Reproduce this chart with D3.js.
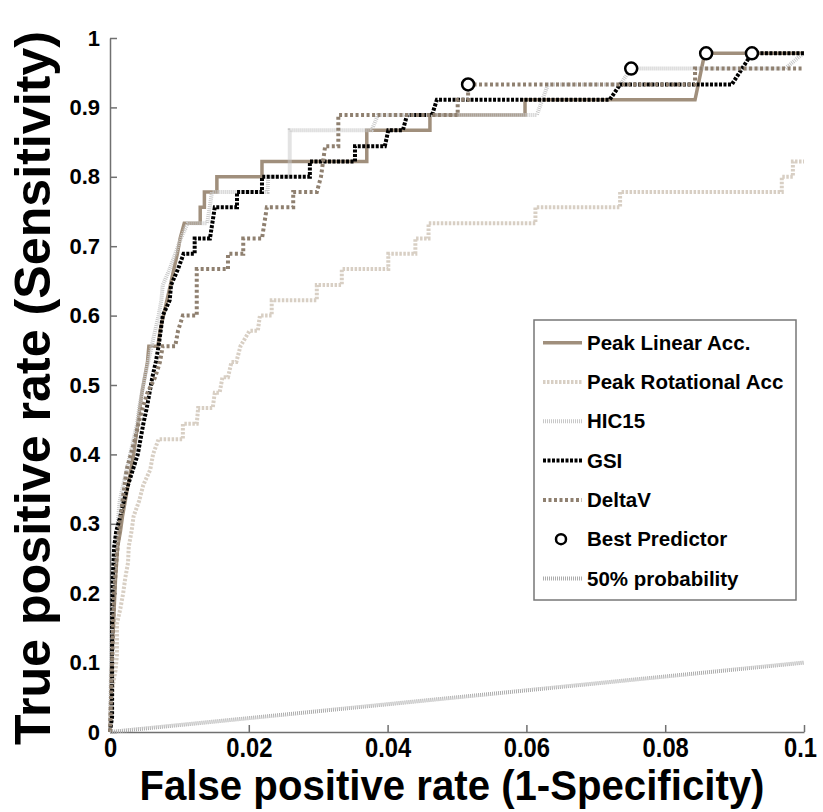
<!DOCTYPE html>
<html>
<head>
<meta charset="utf-8">
<script src="https://cdn.jsdelivr.net/npm/d3@7"></script>
<style>
body { margin: 0; background: #fff; }
text { font-family: "Liberation Sans", Arial, sans-serif; font-weight: bold; fill: #000; }
</style>
</head>
<body>
<svg id="chart" width="823" height="812"></svg>
<script>
// ROC curves, points are [false positive rate, true positive rate]
var peakLinear = [[0,0],[0.0001,0.044],[0.0002,0.089],[0.0004,0.133],[0.0006,0.178],[0.0008,0.222],[0.0011,0.267],
    [0.0015,0.289],[0.0018,0.311],[0.0022,0.333],[0.0026,0.356],[0.0030,0.378],[0.0034,0.4],[0.0037,0.422],
    [0.0040,0.444],[0.0043,0.467],[0.0046,0.489],[0.0050,0.511],[0.0054,0.533],[0.0056,0.556],[0.0069,0.556],
    [0.0072,0.578],[0.0077,0.6],[0.0082,0.622],[0.0087,0.644],[0.0092,0.667],[0.0097,0.689],[0.0101,0.711],
    [0.0107,0.733],[0.0130,0.733],[0.0130,0.756],[0.0136,0.756],[0.0136,0.778],[0.0154,0.778],[0.0154,0.8],
    [0.0219,0.8],[0.0219,0.822],[0.0370,0.822],[0.0370,0.867],[0.0461,0.867],[0.0461,0.889],[0.0598,0.889],
    [0.0598,0.911],[0.0843,0.911],[0.0857,0.978],[0.1,0.978]];

var peakRotational = [[0,0],[0.0002,0.022],[0.0004,0.067],[0.0008,0.089],[0.0010,0.111],[0.0010,0.156],
    [0.0015,0.178],[0.0019,0.2],[0.0022,0.222],[0.0026,0.244],[0.0027,0.267],[0.0031,0.289],[0.0034,0.311],
    [0.0042,0.333],[0.0048,0.356],[0.0058,0.378],[0.0062,0.4],[0.0070,0.422],[0.0105,0.422],[0.0105,0.444],
    [0.0125,0.444],[0.0127,0.467],[0.0148,0.467],[0.0151,0.489],[0.0158,0.489],[0.0162,0.511],[0.0170,0.511],
    [0.0175,0.533],[0.0182,0.533],[0.0188,0.556],[0.0201,0.578],[0.0213,0.578],[0.0216,0.6],[0.0233,0.6],
    [0.0233,0.622],[0.0298,0.622],[0.0298,0.644],[0.0334,0.644],[0.0334,0.667],[0.0401,0.667],[0.0401,0.689],
    [0.0440,0.689],[0.0440,0.711],[0.0459,0.711],[0.0459,0.733],[0.0613,0.733],[0.0613,0.756],[0.0735,0.756],
    [0.0735,0.778],[0.0968,0.778],[0.0968,0.8],[0.0984,0.8],[0.0984,0.822],[0.1,0.822]];

var hic15 = [[0,0],[0.0001,0.067],[0.0002,0.133],[0.0004,0.2],[0.0007,0.244],[0.0010,0.289],[0.0014,0.333],
    [0.0019,0.356],[0.0024,0.378],[0.0029,0.4],[0.0034,0.422],[0.0039,0.444],[0.0042,0.467],[0.0046,0.489],
    [0.0050,0.511],[0.0055,0.533],[0.0060,0.556],[0.0065,0.578],[0.0070,0.6],[0.0074,0.622],[0.0076,0.644],
    [0.0086,0.667],[0.0094,0.689],[0.0102,0.711],[0.0112,0.733],[0.0140,0.733],[0.0147,0.778],[0.0227,0.778],
    [0.0228,0.8],[0.0259,0.8],[0.0259,0.867],[0.0377,0.867],[0.0386,0.889],[0.0615,0.889],[0.0631,0.933],
    [0.0735,0.933],[0.0751,0.956],[0.0973,0.956],[0.0999,0.978]];

var gsi = [[0,0],[0.0003,0.022],[0.0003,0.156],[0.0004,0.222],[0.0006,0.267],[0.0009,0.289],[0.0015,0.311],
    [0.0020,0.333],[0.0026,0.356],[0.0033,0.378],[0.0040,0.4],[0.0044,0.422],[0.0048,0.444],[0.0053,0.467],
    [0.0057,0.489],[0.0061,0.511],[0.0066,0.533],[0.0070,0.556],[0.0073,0.578],[0.0076,0.6],[0.0086,0.622],
    [0.0088,0.644],[0.0098,0.667],[0.0106,0.689],[0.0122,0.689],[0.0122,0.711],[0.0144,0.711],[0.0151,0.756],
    [0.0183,0.756],[0.0183,0.778],[0.0219,0.778],[0.0219,0.8],[0.0288,0.8],[0.0288,0.822],[0.0353,0.822],
    [0.0353,0.844],[0.0396,0.844],[0.0401,0.867],[0.0422,0.867],[0.0428,0.889],[0.0464,0.889],[0.0471,0.911],
    [0.0720,0.911],[0.0735,0.933],[0.0896,0.933],[0.0925,0.978],[0.1,0.978]];

var deltaV = [[0,0],[0.0002,0.067],[0.0004,0.133],[0.0006,0.2],[0.0009,0.244],[0.0013,0.289],[0.0018,0.333],
    [0.0024,0.378],[0.0030,0.4],[0.0036,0.422],[0.0041,0.444],[0.0047,0.467],[0.0054,0.489],[0.0065,0.511],
    [0.0072,0.533],[0.0076,0.556],[0.0094,0.556],[0.0098,0.578],[0.0105,0.6],[0.0125,0.6],[0.0125,0.667],
    [0.0170,0.667],[0.0170,0.689],[0.0192,0.689],[0.0192,0.711],[0.0219,0.711],[0.0226,0.756],[0.0264,0.756],
    [0.0264,0.778],[0.0298,0.778],[0.0304,0.8],[0.0310,0.844],[0.0329,0.844],[0.0329,0.889],[0.0501,0.889],
    [0.0501,0.911],[0.0516,0.911],[0.0516,0.933],[0.0843,0.933],[0.0843,0.956],[0.1,0.956]];

var bestPredictor = [[0.0516,0.933],[0.0751,0.956],[0.0859,0.978],[0.0925,0.978]];
var chance = [[0,0],[0.1,0.1]];

var seriesNames = ["Peak Linear Acc.", "Peak Rotational Acc", "HIC15", "GSI", "DeltaV"];
var seriesData = [peakLinear, peakRotational, hic15, gsi, deltaV];
var xTicks = [0, 0.02, 0.04, 0.06, 0.08, 0.1];
var yTicks = [0, 0.1, 0.2, 0.3, 0.4, 0.5, 0.6, 0.7, 0.8, 0.9, 1];
var xTitle = "False positive rate (1-Specificity)";
var yTitle = "True positive rate (Sensitivity)";

// line looks, same order as seriesNames
var looks = [
    {color: "#a08f7c", dash: null, width: 3.5},
    {color: "#d8cfc4", dash: "2.5,1.5", width: 4},
    {color: "#c8c8c8", dash: "1,1", width: 4},
    {color: "#000000", dash: "3,1.5", width: 4},
    {color: "#8f8070", dash: "3,2.5", width: 4}
];
var chanceLook = {color: "#acacac", dash: "1,1", width: 4};

var svg = d3.select("#chart");
var x = d3.scaleLinear().domain([0, 0.1]).range([110, 804]);
var y = d3.scaleLinear().domain([0, 1]).range([732, 38]);

var line = d3.line()
    .x(function(d) { return x(d[0]); })
    .y(function(d) { return y(d[1]); });

// axes, ticks point inward
var xAxis = svg.append("g")
    .attr("transform", "translate(0," + y(0) + ")")
    .call(d3.axisBottom(x).tickValues(xTicks).tickSizeInner(-7).tickSizeOuter(0).tickPadding(6)
        .tickFormat(function(d) { return d === 0 ? "0" : d3.format(".2~f")(d); }));
var yAxis = svg.append("g")
    .attr("transform", "translate(" + x(0) + ",0)")
    .call(d3.axisLeft(y).tickValues(yTicks).tickSizeInner(-7).tickSizeOuter(0).tickPadding(10)
        .tickFormat(d3.format(".1~f")));

[xAxis, yAxis].forEach(function(g) {
    g.select(".domain").attr("stroke", "#707070").attr("stroke-width", 1.5);
    g.selectAll(".tick line").attr("stroke", "#707070").attr("stroke-width", 1.5);
    g.selectAll("text").attr("fill", "#000").style("font-family", "'Liberation Sans', Arial, sans-serif")
        .style("font-weight", "bold");
});
yAxis.selectAll("text").style("font-size", "22px");
// x tick labels are tall and narrow in the original
xAxis.selectAll("text").style("font-size", "27px")
    .each(function() {
        var w = this.getComputedTextLength();
        d3.select(this).attr("textLength", w * 0.88).attr("lengthAdjust", "spacingAndGlyphs");
    });
// keep the last label inside the page
xAxis.selectAll(".tick:last-of-type text").attr("dx", -4);

// curves
seriesData.forEach(function(data, i) {
    svg.append("path")
        .datum(data)
        .attr("d", line)
        .attr("fill", "none")
        .attr("stroke", looks[i].color)
        .attr("stroke-width", looks[i].width)
        .attr("stroke-dasharray", looks[i].dash);
});

svg.selectAll(".best")
    .data(bestPredictor)
    .enter().append("circle")
    .attr("class", "best")
    .attr("cx", function(d) { return x(d[0]); })
    .attr("cy", function(d) { return y(d[1]); })
    .attr("r", 6)
    .attr("fill", "#fff")
    .attr("stroke", "#000")
    .attr("stroke-width", 2.5);

svg.append("path")
    .datum(chance)
    .attr("d", line)
    .attr("fill", "none")
    .attr("stroke", chanceLook.color)
    .attr("stroke-width", chanceLook.width)
    .attr("stroke-dasharray", chanceLook.dash);

// axis titles
svg.append("text")
    .attr("x", 452).attr("y", 800)
    .attr("text-anchor", "middle")
    .attr("textLength", 625).attr("lengthAdjust", "spacingAndGlyphs")
    .style("font-size", "42px")
    .text(xTitle);

svg.append("text")
    .attr("transform", "translate(50,388) rotate(-90)")
    .attr("text-anchor", "middle")
    .attr("textLength", 714).attr("lengthAdjust", "spacingAndGlyphs")
    .style("font-size", "50px")
    .text(yTitle);

// legend
var legend = svg.append("g").attr("transform", "translate(534,320)");
legend.append("rect")
    .attr("width", 262).attr("height", 280)
    .attr("fill", "#fff").attr("stroke", "#777").attr("stroke-width", 1.5);

var legendItems = seriesNames.concat(["Best Predictor", "50% probability"]);
var legendLooks = looks.concat([null, chanceLook]);
legendItems.forEach(function(name, i) {
    var cy = 22.7 + i * 39.3;
    var lk = legendLooks[i];
    if (lk) {
        legend.append("line")
            .attr("x1", 9).attr("x2", 48).attr("y1", cy).attr("y2", cy)
            .attr("stroke", lk.color).attr("stroke-width", lk.width)
            .attr("stroke-dasharray", lk.dash);
    } else {
        legend.append("circle")
            .attr("cx", 27).attr("cy", cy).attr("r", 5)
            .attr("fill", "#fff").attr("stroke", "#000").attr("stroke-width", 2.5);
    }
    legend.append("text")
        .attr("x", 53).attr("y", cy + 7)
        .style("font-size", "20.5px")
        .text(name);
});
</script>
</body>
</html>
